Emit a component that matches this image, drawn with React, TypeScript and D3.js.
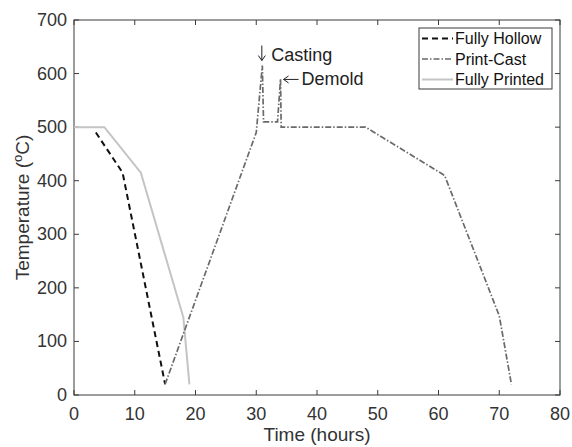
import React, { useEffect, useRef } from "react";
import * as d3 from "d3";

// values (time in hours, temperature in °C)
const hollowTime = [3.6, 8, 15];
const hollowTemp = [490, 415, 20];

const printCastTime = [15, 30, 31, 31.2, 33.5, 34, 34.1, 48, 61, 70, 72];
const printCastTemp = [20, 490, 615, 510, 510, 590, 500, 500, 410, 148, 20];

const printedTime = [0, 5, 11, 18, 19];
const printedTemp = [500, 500, 415, 145, 20];

const xTicks = [0, 10, 20, 30, 40, 50, 60, 70, 80];
const yTicks = [0, 100, 200, 300, 400, 500, 600, 700];

const seriesNames = ["Fully Hollow", "Print-Cast", "Fully Printed"];

const W = 572;
const H = 447;
const margin = { left: 74, right: 12, top: 20, bottom: 52 };

const App = () => {
    const ref = useRef(null);

    useEffect(() => {
        const svg = d3.select(ref.current);
        svg.selectAll("*").remove();

        const x = d3.scaleLinear().domain([0, 80]).range([margin.left, W - margin.right]);
        const y = d3.scaleLinear().domain([0, 700]).range([H - margin.bottom, margin.top]);

        const axisColor = "#3a3a3a";
        const font = "Liberation Sans, Arial, sans-serif";

        const g = svg.append("g");

        // box
        g.append("rect")
            .attr("x", x(0))
            .attr("y", y(700))
            .attr("width", x(80) - x(0))
            .attr("height", y(0) - y(700))
            .attr("fill", "none")
            .attr("stroke", axisColor)
            .attr("stroke-width", 1);

        // inward ticks
        xTicks.forEach(t => {
            g.append("line").attr("x1", x(t)).attr("x2", x(t)).attr("y1", y(0)).attr("y2", y(0) - 5).attr("stroke", axisColor);
            g.append("line").attr("x1", x(t)).attr("x2", x(t)).attr("y1", y(700)).attr("y2", y(700) + 5).attr("stroke", axisColor);
            g.append("text")
                .attr("x", x(t))
                .attr("y", y(0) + 25)
                .attr("text-anchor", "middle")
                .style("font-family", font)
                .style("font-size", "18px")
                .style("fill", "#333")
                .text(t);
        });
        yTicks.forEach(t => {
            g.append("line").attr("x1", x(0)).attr("x2", x(0) + 5).attr("y1", y(t)).attr("y2", y(t)).attr("stroke", axisColor);
            g.append("line").attr("x1", x(80)).attr("x2", x(80) - 5).attr("y1", y(t)).attr("y2", y(t)).attr("stroke", axisColor);
            g.append("text")
                .attr("x", x(0) - 7)
                .attr("y", y(t) + 6)
                .attr("text-anchor", "end")
                .style("font-family", font)
                .style("font-size", "18px")
                .style("fill", "#333")
                .text(t);
        });

        // axis labels
        g.append("text")
            .attr("x", (x(0) + x(80)) / 2)
            .attr("y", H - 6)
            .attr("text-anchor", "middle")
            .style("font-family", font)
            .style("font-size", "19px")
            .style("fill", "#333")
            .text("Time (hours)");

        const yl = g.append("text")
            .attr("transform", `translate(29, ${(y(0) + y(700)) / 2}) rotate(-90)`)
            .attr("text-anchor", "middle")
            .style("font-family", font)
            .style("font-size", "19px")
            .style("fill", "#333");
        yl.append("tspan").text("Temperature (");
        yl.append("tspan").attr("dy", -7).style("font-size", "13px").text("o");
        yl.append("tspan").attr("dy", 7).text("C)");

        const line = d3.line<[number, number]>().x(d => x(d[0])).y(d => y(d[1]));

        const styles = [
            { stroke: "#111", width: 2, dash: "6,4" },
            { stroke: "#6a6a6a", width: 1.7, dash: "6,2,1.5,2" },
            { stroke: "#c4c4c4", width: 2, dash: null },
        ];

        const allData: [number, number][][] = [
            hollowTime.map((t, i) => [t, hollowTemp[i]]),
            printCastTime.map((t, i) => [t, printCastTemp[i]]),
            printedTime.map((t, i) => [t, printedTemp[i]]),
        ];

        [2, 0, 1].forEach(i => {
            g.append("path")
                .attr("d", line(allData[i]))
                .attr("fill", "none")
                .attr("stroke", styles[i].stroke)
                .attr("stroke-width", styles[i].width)
                .attr("stroke-dasharray", styles[i].dash);
        });

        // annotations
        const ann = (tx: number, ty: number, s: string) =>
            g.append("text")
                .attr("x", tx)
                .attr("y", ty)
                .style("font-family", font)
                .style("font-size", "18px")
                .style("fill", "#222")
                .text(s);

        // down arrow above the casting peak
        const ax = x(31) - 0.5;
        const aTop = y(615) - 20;
        const aBot = y(615) - 5;
        g.append("path")
            .attr("d", `M${ax},${aTop}V${aBot}M${ax - 3.5},${aBot - 5}L${ax},${aBot}L${ax + 3.5},${aBot - 5}`)
            .attr("fill", "none")
            .attr("stroke", "#222")
            .attr("stroke-width", 1);
        ann(x(31) + 9, y(615) - 5, "Casting");

        // left arrow next to the demold peak
        const by = y(590) + 0.5;
        const bL = x(34) + 3;
        const bR = x(34) + 18;
        g.append("path")
            .attr("d", `M${bR},${by}H${bL}M${bL + 5},${by - 3.5}L${bL},${by}L${bL + 5},${by + 3.5}`)
            .attr("fill", "none")
            .attr("stroke", "#222")
            .attr("stroke-width", 1);
        ann(x(34) + 21, y(590) + 6, "Demold");

        // legend
        const lg = g.append("g");
        lg.append("rect")
            .attr("x", 419)
            .attr("y", 28)
            .attr("width", 133)
            .attr("height", 61)
            .attr("fill", "white")
            .attr("stroke", axisColor);
        seriesNames.forEach((name, i) => {
            const ly = 38.5 + i * 20.5;
            lg.append("line")
                .attr("x1", 422)
                .attr("x2", 453)
                .attr("y1", ly)
                .attr("y2", ly)
                .attr("stroke", styles[i].stroke)
                .attr("stroke-width", styles[i].width)
                .attr("stroke-dasharray", styles[i].dash);
            lg.append("text")
                .attr("x", 455)
                .attr("y", ly + 5.5)
                .style("font-family", font)
                .style("font-size", "16px")
                .style("fill", "#111")
                .text(name);
        });
    }, []);

    return <svg ref={ref} width={W} height={H} style={{ position: "absolute", left: 0, top: 0, background: "white" }} />;
};

export default App;
